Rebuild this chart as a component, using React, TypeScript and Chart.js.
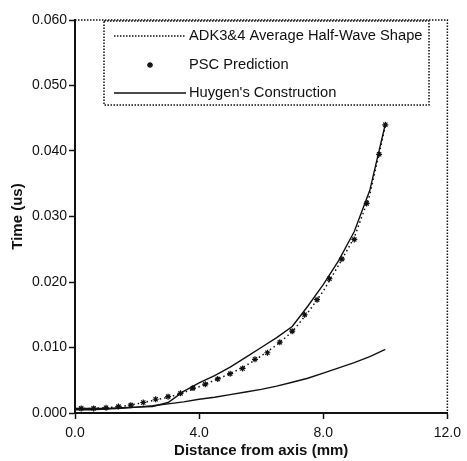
import React, { useEffect, useRef } from "react";
import { Chart, registerables } from "chart.js";

Chart.register(...registerables);

const FONT = '"Liberation Sans", Arial, sans-serif';
const INK = "#111111";

// Distance from axis (mm)
const lineX = [0, 0.5, 1.0, 1.5, 2.0, 2.5, 3.0, 3.5, 4.0, 4.5, 5.0, 5.5, 6.0, 6.5, 7.0, 7.5, 8.0, 8.5, 9.0, 9.5, 10.0];
// ADK3&4 Average Half-Wave Shape (dotted)
const adkY = [0.0007, 0.0007, 0.0008, 0.0010, 0.0014, 0.0019, 0.0024, 0.0031, 0.0040, 0.0050, 0.0060, 0.0072, 0.0087, 0.0104, 0.0124, 0.0153, 0.0186, 0.0226, 0.0268, 0.0333, 0.0438];
// Huygen's Construction (upper solid)
const huygenY = [0.0007, 0.0007, 0.0007, 0.0008, 0.0009, 0.0010, 0.0016, 0.0033, 0.0046, 0.0057, 0.0070, 0.0085, 0.0100, 0.0115, 0.0132, 0.0163, 0.0196, 0.0233, 0.0277, 0.0340, 0.0441];
// Lower solid curve
const lowerY = [0.0005, 0.0005, 0.0006, 0.0007, 0.0009, 0.0011, 0.0014, 0.0017, 0.0021, 0.0024, 0.0028, 0.0032, 0.0036, 0.0041, 0.0047, 0.0053, 0.0061, 0.0069, 0.0077, 0.0086, 0.0097];
// PSC Prediction (stars)
const pscX = [0.2, 0.6, 1.0, 1.4, 1.8, 2.2, 2.6, 3.0, 3.4, 3.8, 4.2, 4.6, 5.0, 5.4, 5.8, 6.2, 6.6, 7.0, 7.4, 7.8, 8.2, 8.6, 9.0, 9.4, 9.8, 10.0];
const pscY = [0.0007, 0.0007, 0.0008, 0.0010, 0.0012, 0.0016, 0.0021, 0.0025, 0.0030, 0.0038, 0.0044, 0.0052, 0.0060, 0.0068, 0.0082, 0.0092, 0.0108, 0.0125, 0.0150, 0.0173, 0.0205, 0.0235, 0.0265, 0.0320, 0.0395, 0.0440];

const legendLabels = ["ADK3&4 Average Half-Wave Shape", "PSC Prediction", "Huygen's Construction"];
const xTitle = "Distance from axis (mm)";
const yTitle = "Time (us)";

const pts = (xs: number[], ys: number[]) => xs.map((x, i) => ({ x, y: ys[i] }));

const framePlugin = {
  id: "frameAndLegend",
  afterDraw(chart: any) {
    const { ctx, chartArea } = chart;
    const { left, right, top, bottom } = chartArea;
    ctx.save();
    // dotted top and right border
    ctx.strokeStyle = INK;
    ctx.lineWidth = 1.5;
    ctx.setLineDash([1.5, 1.5]);
    ctx.beginPath();
    ctx.moveTo(left, top);
    ctx.lineTo(right, top);
    ctx.lineTo(right, bottom);
    ctx.stroke();

    // legend box
    const bx1 = 104, by1 = 21, bx2 = 429, by2 = 105;
    ctx.fillStyle = "#ffffff";
    ctx.fillRect(bx1, by1, bx2 - bx1, by2 - by1);
    ctx.strokeRect(bx1, by1, bx2 - bx1, by2 - by1);

    const rows = [36, 65, 93];
    const sx1 = 114, sx2 = 186, tx = 189;
    // dotted sample
    ctx.setLineDash([1.5, 1.5]);
    ctx.lineWidth = 1.5;
    ctx.beginPath();
    ctx.moveTo(sx1, rows[0]);
    ctx.lineTo(sx2, rows[0]);
    ctx.stroke();
    // star sample
    ctx.setLineDash([]);
    ctx.lineWidth = 1.3;
    const cx = 150, cy = rows[1], r = 3;
    ctx.beginPath();
    for (let k = 0; k < 4; k++) {
      const a = (k * Math.PI) / 4;
      ctx.moveTo(cx - r * Math.cos(a), cy - r * Math.sin(a));
      ctx.lineTo(cx + r * Math.cos(a), cy + r * Math.sin(a));
    }
    ctx.stroke();
    // solid sample
    ctx.lineWidth = 1.3;
    ctx.beginPath();
    ctx.moveTo(sx1, rows[2]);
    ctx.lineTo(sx2, rows[2]);
    ctx.stroke();

    ctx.fillStyle = INK;
    ctx.font = `14.7px ${FONT}`;
    ctx.textBaseline = "middle";
    ctx.textAlign = "left";
    legendLabels.forEach((t, i) => ctx.fillText(t, tx, rows[i]));
    ctx.restore();
  },
};

export default function App() {
  const ref = useRef<HTMLCanvasElement | null>(null);
  useEffect(() => {
    if (!ref.current) return;
    const chart = new Chart(ref.current, {
      type: "scatter",
      data: {
        datasets: [
          {
            label: legendLabels[0],
            data: pts(lineX, adkY),
            showLine: true,
            borderColor: INK,
            borderWidth: 1.5,
            borderDash: [1.5, 3],
            pointRadius: 0,
            tension: 0,
          },
          {
            label: legendLabels[1],
            data: pts(pscX, pscY),
            showLine: false,
            pointStyle: "star",
            pointRadius: 3,
            borderColor: INK,
            backgroundColor: INK,
            borderWidth: 1.2,
          },
          {
            label: legendLabels[2],
            data: pts(lineX, huygenY),
            showLine: true,
            borderColor: INK,
            borderWidth: 1.4,
            pointRadius: 0,
            tension: 0,
          },
          {
            label: "",
            data: pts(lineX, lowerY),
            showLine: true,
            borderColor: INK,
            borderWidth: 1.4,
            pointRadius: 0,
            tension: 0,
          },
        ],
      },
      plugins: [framePlugin],
      options: {
        animation: false,
        responsive: false,
        devicePixelRatio: 1,
        layout: { padding: { left: 0, right: 15, top: 20, bottom: 0 } },
        plugins: { legend: { display: false }, tooltip: { enabled: false } },
        scales: {
          x: {
            type: "linear",
            min: 0,
            max: 12,
            afterFit: (s: any) => { s.height = 48; },
            ticks: {
              stepSize: 4,
              color: INK,
              font: { family: FONT, size: 14 },
              padding: 6,
              maxRotation: 0,
              callback: (v: any) => Number(v).toFixed(1),
            },
            grid: { drawOnChartArea: false, tickLength: 6, tickColor: INK, tickWidth: 1.5 },
            border: { display: true, color: INK, width: 2 },
            title: {
              display: true,
              text: xTitle,
              color: INK,
              font: { family: FONT, size: 15, weight: "bold" },
              padding: { top: 0, bottom: 1 },
            },
          },
          y: {
            type: "linear",
            min: 0,
            max: 0.06,
            afterFit: (s: any) => { s.width = 75; },
            ticks: {
              stepSize: 0.01,
              color: INK,
              font: { family: FONT, size: 14 },
              padding: 2,
              callback: (v: any) => Number(v).toFixed(3),
            },
            grid: { drawOnChartArea: false, tickLength: 6, tickColor: INK, tickWidth: 1.5 },
            border: { display: true, color: INK, width: 2 },
            title: {
              display: true,
              text: yTitle,
              color: INK,
              font: { family: FONT, size: 15, weight: "bold" },
              padding: { top: 9, bottom: 0 },
            },
          },
        },
      },
    });
    return () => chart.destroy();
  }, []);
  return (
    <div style={{ position: "absolute", left: 0, top: 0, width: 467, height: 461, background: "#fff" }}>
      <canvas ref={ref} width={467} height={461} style={{ display: "block" }} />
    </div>
  );
}
